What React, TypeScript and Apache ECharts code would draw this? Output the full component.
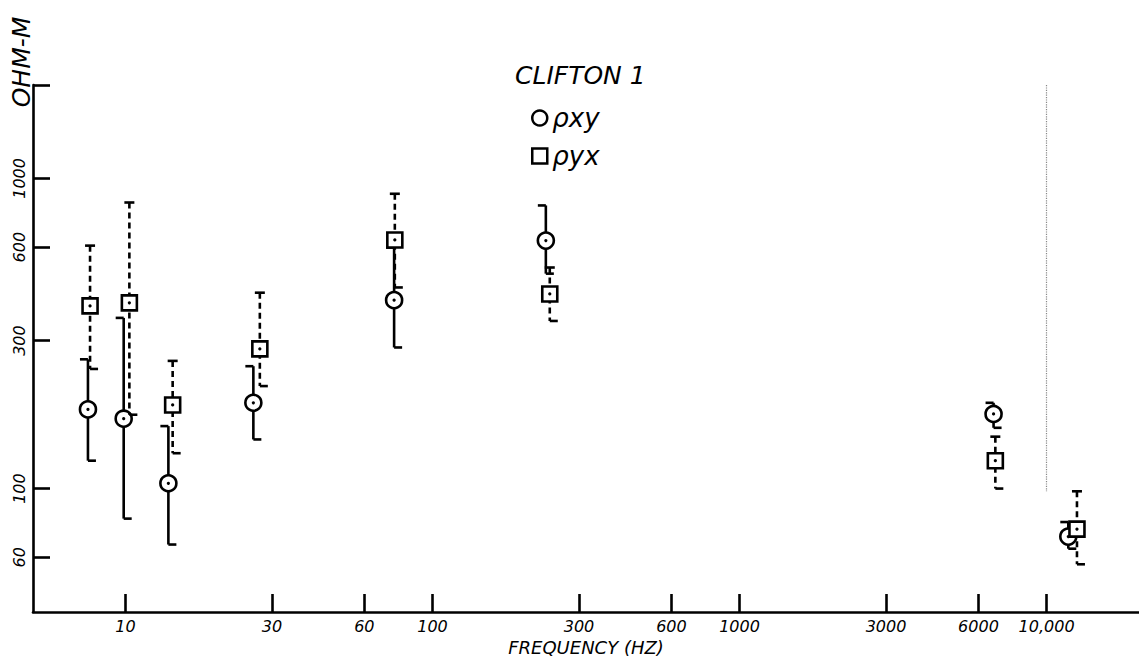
import React, { useEffect, useRef } from "react";
import * as echarts from "echarts";

// ρxy (circles, solid error bars)
const xyFreq = [7.55, 9.87, 13.8, 26.1, 75, 234, 6720, 11770];
const xyRho = [180, 168, 104, 189, 405, 630, 174, 70];
const xyLow = [123, 80, 66, 144, 285, 493, 157, 64];
const xyHigh = [261, 355, 159, 248, 598, 818, 189, 78];

// ρyx (squares, dashed error bars)
const yxFreq = [7.67, 10.3, 14.25, 27.4, 75.4, 241, 6810, 12560];
const yxRho = [388, 397, 186, 282, 633, 424, 123, 74];
const yxLow = [243, 173, 130, 214, 445, 347, 100, 57];
const yxHigh = [607, 836, 258, 428, 892, 516, 147, 98];

const xTicks = [10, 30, 60, 100, 300, 600, 1000, 3000, 6000, 10000];
const yTicks = [60, 100, 300, 600, 1000, 2000];
const yLabels = [60, 100, 300, 600, 1000];

const dottedFreq = 10000;
const dottedRange = [98, 2000];

const FONT = "DejaVu Sans";

function makeRender(kind: "circle" | "square") {
  return (params: any, api: any) => {
    const x = api.value(0);
    const y = api.value(1);
    const lo = api.value(2);
    const hi = api.value(3);
    const c = api.coord([x, y]);
    const cl = api.coord([x, lo]);
    const ch = api.coord([x, hi]);
    const lw = 2.6;
    const cap = 8;
    const stroke = { stroke: "#000", lineWidth: lw };
    const dash = kind === "square" ? [6, 4] : undefined;
    const children: any[] = [
      {
        type: "line",
        shape: { x1: c[0], y1: ch[1], x2: c[0], y2: cl[1] },
        style: { ...stroke, lineDash: dash },
      },
    ];
    if (kind === "circle") {
      children.push({ type: "line", shape: { x1: c[0] - cap, y1: ch[1], x2: c[0], y2: ch[1] }, style: stroke });
      children.push({ type: "line", shape: { x1: c[0], y1: cl[1], x2: c[0] + cap, y2: cl[1] }, style: stroke });
      children.push({ type: "circle", shape: { cx: c[0], cy: c[1], r: 8 }, style: { fill: "#fff", ...stroke } });
    } else {
      children.push({ type: "line", shape: { x1: c[0] - cap / 2 - 1, y1: ch[1], x2: c[0] + cap / 2 + 1, y2: ch[1] }, style: stroke });
      children.push({ type: "line", shape: { x1: c[0], y1: cl[1], x2: c[0] + cap, y2: cl[1] }, style: stroke });
      children.push({ type: "rect", shape: { x: c[0] - 7.5, y: c[1] - 7.5, width: 15, height: 15 }, style: { fill: "#fff", ...stroke } });
    }
    children.push({ type: "circle", shape: { cx: c[0], cy: c[1], r: 1.6 }, style: { fill: "#000" } });
    return { type: "group", children };
  };
}

export default function App() {
  const ref = useRef<HTMLDivElement>(null);
  useEffect(() => {
    if (!ref.current) return;
    const chart = echarts.init(ref.current, null, { renderer: "svg" });
    const xyData = xyFreq.map((f, i) => [f, xyRho[i], xyLow[i], xyHigh[i]]);
    const yxData = yxFreq.map((f, i) => [f, yxRho[i], yxLow[i], yxHigh[i]]);
    const labelStyle = { color: "#000", fontFamily: FONT, fontStyle: "italic" as const, fontSize: 16 };
    chart.setOption({
      animation: false,
      backgroundColor: "#fff",
      title: {
        text: "CLIFTON 1",
        left: 510,
        top: 58,
        textStyle: { color: "#000", fontFamily: FONT, fontStyle: "italic", fontWeight: "normal", fontSize: 25 },
      },
      legend: {
        orient: "vertical",
        left: 526,
        top: 100,
        itemGap: 12,
        itemWidth: 15,
        itemHeight: 15,
        textStyle: { color: "#000", fontFamily: FONT, fontStyle: "italic", fontSize: 26 },
        data: [
          { name: "ρxy", icon: "circle", itemStyle: { color: "#fff", borderColor: "#000", borderWidth: 2.5 } },
          { name: "ρyx", icon: "rect", itemStyle: { color: "#fff", borderColor: "#000", borderWidth: 2.5 } },
        ],
      },
      grid: { left: 33, top: 85, right: 0, bottom: 46, containLabel: false, outerBoundsMode: "none" },
      xAxis: {
        type: "log",
        logBase: 10,
        min: 5,
        max: 20000,
        name: "FREQUENCY (HZ)",
        nameLocation: "middle",
        nameGap: 24,
        nameTextStyle: { color: "#000", fontFamily: FONT, fontStyle: "italic", fontSize: 18 },
        axisLine: { lineStyle: { color: "#000", width: 2.6 } },
        axisTick: { inside: true, length: 18, lineStyle: { color: "#000", width: 2.6 }, customValues: xTicks },
        axisLabel: {
          ...labelStyle,
          margin: 6,
          customValues: xTicks,
          formatter: (v: number) => (v >= 10000 ? "10,000" : String(v)),
        },
        splitLine: { show: false },
        minorTick: { show: false },
      },
      yAxis: {
        type: "log",
        logBase: 10,
        min: 40,
        max: 2000,
        axisLine: { lineStyle: { color: "#000", width: 2.6 } },
        axisTick: { inside: true, length: 17, lineStyle: { color: "#000", width: 2.6 }, customValues: yTicks },
        axisLabel: {
          ...labelStyle,
          rotate: 90,
          margin: 6,
          customValues: yLabels,
          formatter: (v: number) => String(Math.round(v)),
        },
        splitLine: { show: false },
        minorTick: { show: false },
      },
      graphic: [
        {
          type: "text",
          x: 21,
          y: 62,
          rotation: Math.PI / 2,
          style: {
            text: "OHM-M",
            fill: "#000",
            fontFamily: FONT,
            fontStyle: "italic",
            fontSize: 25,
            align: "center",
            verticalAlign: "middle",
          },
        },
      ],
      series: [
        {
          name: "ρxy",
          type: "custom",
          renderItem: makeRender("circle"),
          data: xyData,
          encode: { x: 0, y: 1 },
          clip: false,
          markLine: {
            silent: true,
            symbol: "none",
            label: { show: false },
            lineStyle: { color: "#888", type: "dotted", width: 1.2 },
            data: [[{ coord: [dottedFreq, dottedRange[1]] }, { coord: [dottedFreq, dottedRange[0]] }]],
          },
        },
        {
          name: "ρyx",
          type: "custom",
          renderItem: makeRender("square"),
          data: yxData,
          encode: { x: 0, y: 1 },
          clip: false,
        },
      ],
    });
    return () => chart.dispose();
  }, []);
  return <div ref={ref} style={{ position: "absolute", left: 0, top: 0, width: 1139, height: 658 }} />;
}
